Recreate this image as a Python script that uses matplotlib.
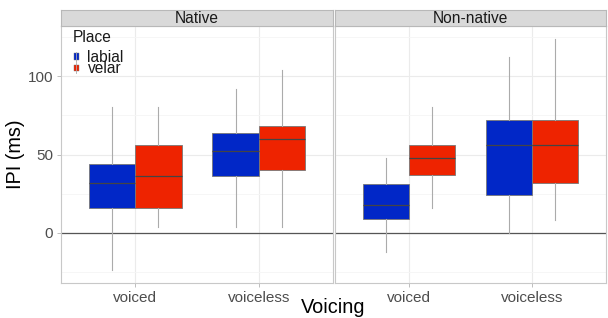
import matplotlib
matplotlib.use("Agg")
import matplotlib.pyplot as plt
from matplotlib.patches import Rectangle
from matplotlib.lines import Line2D
import numpy as np

plt.rcParams['font.family'] = ['Liberation Sans', 'DejaVu Sans']

panels = ["Native", "Non-native"]
voicing = ["voiced", "voiceless"]
places = ["labial", "velar"]
colors = {"labial": "#0127C7", "velar": "#EE2300"}

# stats per panel -> place -> [voiced, voiceless]: (whislo, q1, med, q3, whishi)
native_labial = [(-24, 16, 32, 44, 80), (4, 36, 52, 64, 92)]
native_velar = [(4, 16, 36, 56, 80), (4, 40, 60, 68, 104)]
nonnative_labial = [(-12, 9, 18, 31, 48), (0, 24, 56, 72, 112)]
nonnative_velar = [(16, 37, 48, 56, 80), (8, 32, 56, 72, 124)]

data = {
    "Native": {"labial": native_labial, "velar": native_velar},
    "Non-native": {"labial": nonnative_labial, "velar": nonnative_velar},
}

W, H = 608, 318
fig = plt.figure(figsize=(W / 100, H / 100), dpi=100)

def fx(px):
    return px / W

def fy(py):
    return 1 - py / H

panel_x = [(61, 333), (335, 606)]
top, bottom = 26, 283
strip_top = 10

for i, (name, (x0, x1)) in enumerate(zip(panels, panel_x)):
    ax = fig.add_axes([fx(x0), fy(bottom), fx(x1 - x0), fy(top) - fy(bottom)])
    ax.set_facecolor("white")
    ax.set_xlim(0.4, 2.6)
    ax.set_ylim(-32, 132)
    ax.set_yticks([0, 50, 100])
    ax.set_yticks([-25, 25, 75, 125], minor=True)
    ax.set_xticks([1, 2])
    ax.set_xticklabels(voicing)
    ax.grid(True, which="major", color="#EBEBEB", lw=0.8, zorder=0)
    ax.grid(True, which="minor", axis="y", color="#F5F5F5", lw=0.6, zorder=0)
    ax.set_axisbelow(True)
    for s in ax.spines.values():
        s.set_color("#C8C8C8")
        s.set_linewidth(0.8)
    ax.tick_params(axis="both", which="major", labelsize=11, colors="#B3B3B3",
                   labelcolor="#4D4D4D", length=3, width=0.6, pad=2.5)
    ax.tick_params(axis="both", which="minor", length=0)
    if i == 0:
        ax.set_ylabel("IPI (ms)", fontsize=14.3)
        ax.yaxis.set_label_coords((24.5 - x0) / (x1 - x0), 0.5)
    else:
        ax.set_yticklabels([])
        ax.tick_params(axis="y", length=0)
    ax.axhline(0, color="#555555", lw=0.9, zorder=1)

    width = 0.375
    for j, place in enumerate(places):
        stats = []
        for k, v in enumerate(voicing):
            lo, q1, med, q3, hi = data[name][place][k]
            stats.append(dict(whislo=lo, q1=q1, med=med, q3=q3, whishi=hi, fliers=[], label=v))
        pos = [k + 1 + (j - 0.5) * width for k in range(len(voicing))]
        ax.bxp(stats, positions=pos, widths=width, patch_artist=True, showcaps=False,
               showfliers=False,
               boxprops=dict(facecolor=colors[place], edgecolor="#777777", lw=0.6),
               medianprops=dict(color="#444444", lw=0.9),
               whiskerprops=dict(color="#ABABAB", lw=0.8),
               manage_ticks=False, zorder=3)

    # strip
    sax = fig.add_axes([fx(x0), fy(top), fx(x1 - x0), fy(strip_top) - fy(top)])
    sax.set_facecolor("#D9D9D9")
    sax.set_xticks([])
    sax.set_yticks([])
    for s in sax.spines.values():
        s.set_color("#B8B8B8")
        s.set_linewidth(0.8)
    sax.text(0.5, 0.45, name, ha="center", va="center", fontsize=11.2, color="#1A1A1A",
             transform=sax.transAxes)

# legend (drawn inside the first panel)
fig.text(fx(73), fy(42), "Place", ha="left", va="baseline", fontsize=11.2, color="#1A1A1A")
key_y = [56.5, 68]
for place, ky in zip(places, key_y):
    fig.add_artist(Line2D([fx(76), fx(76)], [fy(ky - 5), fy(ky + 5)],
                          transform=fig.transFigure, color="#ABABAB", lw=0.6))
    fig.add_artist(Rectangle((fx(73.5), fy(ky + 3.2)), fx(5.5), fy(ky - 3.2) - fy(ky + 3.2),
                             transform=fig.transFigure, facecolor=colors[place],
                             edgecolor="#777777", lw=0.3))
    fig.text(fx(87.5), fy(ky + 5), place, ha="left", va="baseline", fontsize=11.2,
             color="#1A1A1A")

fig.text(fx((61 + 606) / 2), fy(313), "Voicing", ha="center", va="baseline", fontsize=14.3)

fig.savefig("out.png", dpi=100)
